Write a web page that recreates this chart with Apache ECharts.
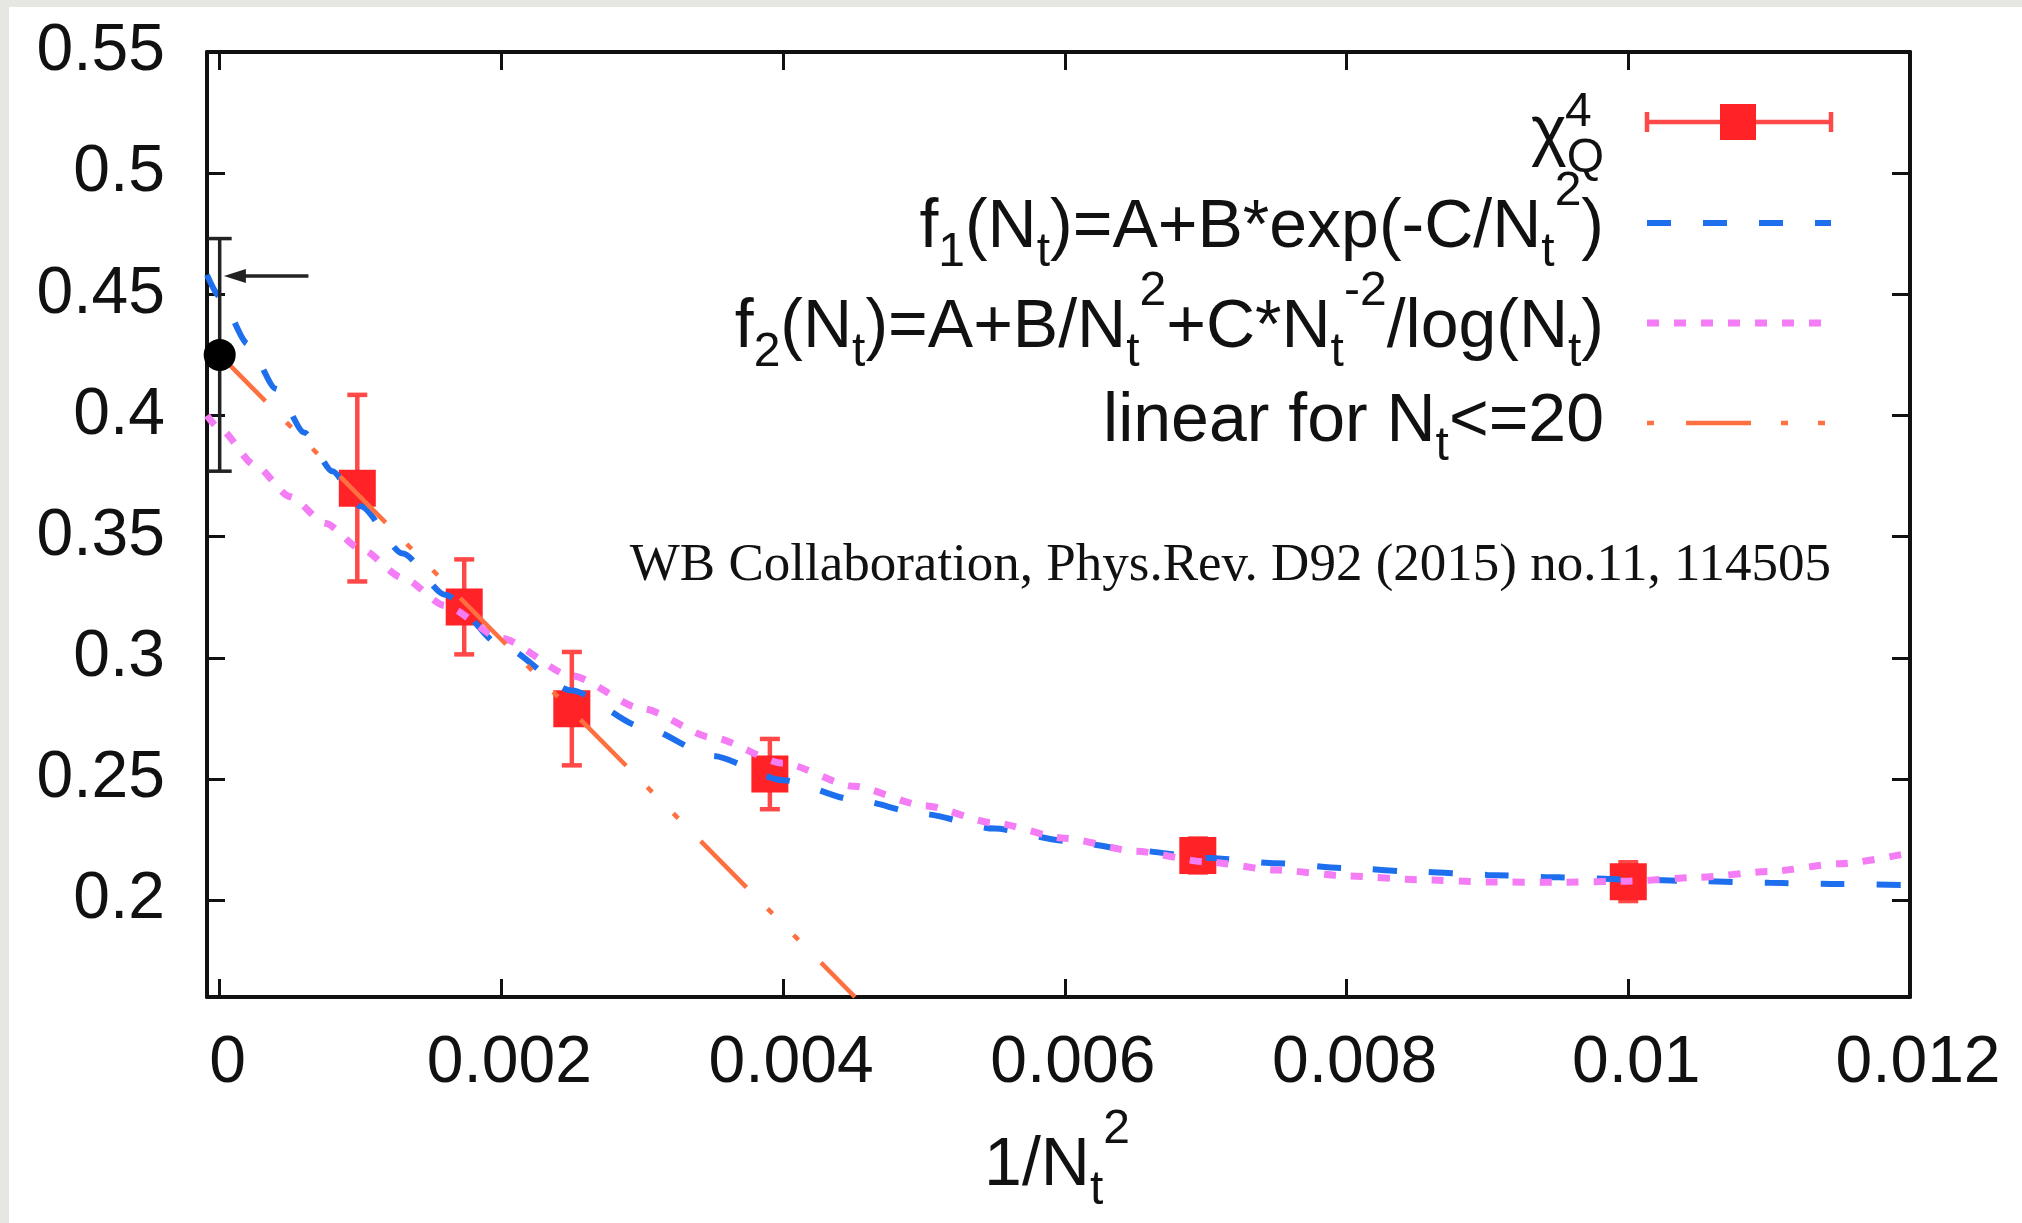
<!DOCTYPE html>
<html>
<head>
<meta charset="utf-8">
<title>chi4_Q continuum extrapolation</title>
<script src="https://cdn.jsdelivr.net/npm/echarts@6/dist/echarts.min.js"></script>
<style>
html, body { margin: 0; padding: 0; background: #fff; }
#chart { position: absolute; left: 0; top: 0; width: 2022px; height: 1223px; }
.strip { position: absolute; background: #e6e6e2; }
</style>
</head>
<body>
<div id="chart"></div>
<div class="strip" style="left:0;top:0;width:9px;height:1223px"></div>
<div class="strip" style="left:0;top:0;width:2022px;height:7px"></div>
<script>
// axis ticks
var xTicks = [0, 0.002, 0.004, 0.006, 0.008, 0.01, 0.012];
var xTickLabels = ['0', '0.002', '0.004', '0.006', '0.008', '0.01', '0.012'];
var yTicks = [0.2, 0.25, 0.3, 0.35, 0.4, 0.45, 0.5, 0.55];
var yTickLabels = ['0.2', '0.25', '0.3', '0.35', '0.4', '0.45', '0.5', '0.55'];
var xMin = -0.00009, xMax = 0.012;
var yMin = 0.16, yMax = 0.55;

// lattice data chi4_Q vs 1/Nt^2 (Nt = 32, 24, 20, 16, 12, 10)
var chiX = [0.000977, 0.001736, 0.0025, 0.003906, 0.006944, 0.01];
var chiY = [0.370, 0.321, 0.279, 0.252, 0.2184, 0.2076];
var chiErr = [0.0385, 0.0196, 0.0234, 0.0145, 0.007, 0.008];

// continuum value
var contX = [0];
var contY = [0.425];
var contErr = [0.048];

// f1 = A+B*exp(-C/Nt^2)
var f1X = [-0.00009, 0, 0.0002, 0.0004, 0.0006, 0.0008, 0.001, 0.0013, 0.0016, 0.002, 0.0025,
  0.003, 0.0035, 0.004, 0.0045, 0.005, 0.0055, 0.006, 0.0065, 0.007, 0.0075, 0.008, 0.0085, 0.009,
  0.0095, 0.01, 0.0105, 0.011, 0.0115, 0.012];
var f1Y = [0.458, 0.449, 0.4295, 0.411, 0.393, 0.377, 0.3625, 0.343, 0.326, 0.305, 0.2865,
  0.2715, 0.2595, 0.2495, 0.2415, 0.2355, 0.2295, 0.2245, 0.2205, 0.2175, 0.2152, 0.2132, 0.2117, 0.2104,
  0.2094, 0.2085, 0.2078, 0.2071, 0.2066, 0.2062];

// f2 = A+B/Nt^2+C*Nt^-2/log(Nt)
var f2X = [-0.00009, 0, 0.00025, 0.0005, 0.00075, 0.001, 0.0013, 0.0016, 0.002, 0.0025, 0.003, 0.0035,
  0.004, 0.0045, 0.005, 0.0055, 0.006, 0.0065, 0.007, 0.0075, 0.008, 0.0085, 0.009, 0.0095, 0.01,
  0.0105, 0.011, 0.0115, 0.012];
var f2Y = [0.400, 0.3945, 0.3795, 0.3665, 0.3555, 0.345, 0.333, 0.3215, 0.308, 0.2925, 0.279, 0.267,
  0.2565, 0.247, 0.239, 0.2318, 0.2255, 0.2202, 0.2158, 0.2124, 0.2100, 0.2084, 0.2075, 0.2073, 0.2078,
  0.2094, 0.2118, 0.2150, 0.2195];

// linear fit for Nt<=20
var linX = [0, 0.00451];
var linY = [0.425, 0.16];

// arrow
var arrowFrom = [0.00063, 0.4576];
var arrowTo = [0.00003, 0.4576];

var FONT = "'Liberation Sans', Arial, Helvetica, sans-serif";
var RED = '#ff2226', RED_BAR = '#ff4848';
var BLUE = '#1e6fee', PINK = '#f47cf4', ORANGE = '#ff7040';
var DASH_BLUE = [24, 32], DASH_PINK = [12, 15], DASH_ORANGE = [65, 30, 7, 30, 7, 32];

function zip(a, b) {
  var out = [];
  for (var i = 0; i < a.length; i++) out.push([a[i], b[i]]);
  return out;
}
function zip3(a, b, c) {
  var out = [];
  for (var i = 0; i < a.length; i++) out.push([a[i], b[i], c[i]]);
  return out;
}
function tickLabel(ticks, labels) {
  return function (v) {
    var best = 0;
    for (var i = 1; i < ticks.length; i++) {
      if (Math.abs(ticks[i] - v) < Math.abs(ticks[best] - v)) best = i;
    }
    return labels[best];
  };
}

function errorBar(color, width, capHalf) {
  return function (params, api) {
    var x = api.value(0), y = api.value(1), e = api.value(2);
    var top = api.coord([x, y + e]);
    var bot = api.coord([x, y - e]);
    var st = { stroke: color, lineWidth: width };
    return {
      type: 'group',
      children: [
        { type: 'line', shape: { x1: top[0], y1: top[1], x2: bot[0], y2: bot[1] }, style: st },
        { type: 'line', shape: { x1: top[0] - capHalf, y1: top[1], x2: top[0] + capHalf, y2: top[1] }, style: st },
        { type: 'line', shape: { x1: bot[0] - capHalf, y1: bot[1], x2: bot[0] + capHalf, y2: bot[1] }, style: st }
      ]
    };
  };
}

function arrowItem(params, api) {
  var p0 = api.coord([api.value(0), api.value(1)]);
  var p1 = api.coord([api.value(2), api.value(3)]);
  return {
    type: 'group',
    children: [
      { type: 'line', shape: { x1: p0[0], y1: p0[1], x2: p1[0] + 14, y2: p1[1] },
        style: { stroke: '#222', lineWidth: 3.5 } },
      { type: 'polygon', shape: { points: [[p1[0], p1[1]], [p1[0] + 22, p1[1] - 7], [p1[0] + 22, p1[1] + 7]] },
        style: { fill: '#222' } }
    ]
  };
}

var rich = {
  s: { fontSize: 48, fontFamily: FONT, color: '#111', padding: [50, 0, 0, 0] },
  p: { fontSize: 48, fontFamily: FONT, color: '#111', padding: [0, 0, 72, 0] }
};

function richText(str, x, y, align) {
  return {
    type: 'text', x: x, y: y, z: 100,
    style: {
      text: str, fontSize: 68, fontFamily: FONT, fill: '#111',
      align: align, textAlign: align, verticalAlign: 'middle', textVerticalAlign: 'middle',
      rich: rich
    }
  };
}

var LX0 = 1647, LX1 = 1831, TX = 1604;
var rowY = [122, 223, 323, 423];

var graphics = [
  richText('χ{s|Q}', TX, 134, 'right'),
  { type: 'text', x: 1565, y: 113, z: 100,
    style: { text: '4', fontSize: 48, fontFamily: FONT, fill: '#111', align: 'left', textAlign: 'left',
      verticalAlign: 'middle', textVerticalAlign: 'middle' } },
  richText('f{s|1}(N{s|t})=A+B*exp(-C/N{s|t}{p|2})', TX, 228, 'right'),
  richText('f{s|2}(N{s|t})=A+B/N{s|t}{p|2}+C*N{s|t}{p|-2}/log(N{s|t})', TX, 328, 'right'),
  richText('linear for N{s|t}<=20', TX, 422, 'right'),
  // legend samples
  { type: 'line', z: 100, shape: { x1: LX0, y1: rowY[0], x2: LX1, y2: rowY[0] }, style: { stroke: RED_BAR, lineWidth: 4.5 } },
  { type: 'line', z: 100, shape: { x1: LX0, y1: rowY[0] - 10, x2: LX0, y2: rowY[0] + 10 }, style: { stroke: RED_BAR, lineWidth: 4.5 } },
  { type: 'line', z: 100, shape: { x1: LX1, y1: rowY[0] - 10, x2: LX1, y2: rowY[0] + 10 }, style: { stroke: RED_BAR, lineWidth: 4.5 } },
  { type: 'rect', z: 101, shape: { x: 1720, y: rowY[0] - 18, width: 36, height: 36 }, style: { fill: RED } },
  { type: 'line', z: 100, shape: { x1: LX0, y1: rowY[1], x2: LX1, y2: rowY[1] },
    style: { stroke: BLUE, lineWidth: 6, lineDash: DASH_BLUE } },
  { type: 'line', z: 100, shape: { x1: LX0, y1: rowY[2], x2: LX1, y2: rowY[2] },
    style: { stroke: PINK, lineWidth: 7, lineDash: DASH_PINK } },
  { type: 'line', z: 100, shape: { x1: LX0, y1: rowY[3], x2: LX1, y2: rowY[3] },
    style: { stroke: ORANGE, lineWidth: 4.5, lineDash: DASH_ORANGE, lineDashOffset: 132 } },
  // reference
  { type: 'text', x: 1831, y: 566, z: 100,
    style: { text: 'WB Collaboration, Phys.Rev. D92 (2015) no.11, 114505', fontSize: 53,
      fontFamily: "'Liberation Serif', 'Times New Roman', serif", fill: '#111',
      align: 'right', textAlign: 'right', verticalAlign: 'middle', textVerticalAlign: 'middle' } },
  // x axis title
  richText('1/N{s|t}{p|2}', 1057, 1166, 'center')
];

var axisLineStyle = { show: true, onZero: false, lineStyle: { color: '#111', width: 4 } };
var tickStyle = { show: true, inside: true, length: 18, lineStyle: { color: '#111', width: 3 } };

var chart = echarts.init(document.getElementById('chart'), null, { renderer: 'canvas' });
var option = {
  backgroundColor: '#fff',
  animation: false,
  grid: { left: 207, right: 112, top: 52, bottom: 226, containLabel: false, outerBoundsMode: 'none' },
  xAxis: [
    { type: 'value', position: 'bottom', min: xMin, max: xMax,
      axisLine: axisLineStyle,
      axisTick: Object.assign({ customValues: xTicks }, tickStyle),
      axisLabel: { customValues: xTicks, formatter: tickLabel(xTicks, xTickLabels), fontSize: 66,
        fontFamily: FONT, color: '#111', margin: 34, padding: [0, 0, 0, 16] },
      splitLine: { show: false } },
    { type: 'value', position: 'top', min: xMin, max: xMax,
      axisLine: axisLineStyle,
      axisTick: Object.assign({ customValues: xTicks }, tickStyle),
      axisLabel: { show: false }, splitLine: { show: false } }
  ],
  yAxis: [
    { type: 'value', position: 'left', min: yMin, max: yMax,
      axisLine: axisLineStyle,
      axisTick: Object.assign({ customValues: yTicks }, tickStyle),
      axisLabel: { customValues: yTicks, formatter: tickLabel(yTicks, yTickLabels), fontSize: 66,
        fontFamily: FONT, color: '#111', margin: 42, padding: [6, 0, 0, 0] },
      splitLine: { show: false } },
    { type: 'value', position: 'right', min: yMin, max: yMax,
      axisLine: axisLineStyle,
      axisTick: Object.assign({ customValues: yTicks }, tickStyle),
      axisLabel: { show: false }, splitLine: { show: false } }
  ],
  series: [
    { name: 'chi4 err', type: 'custom', z: 2, renderItem: errorBar(RED_BAR, 4.5, 10),
      encode: { x: 0, y: 1 }, data: zip3(chiX, chiY, chiErr) },
    { name: 'chi4', type: 'scatter', z: 3, symbol: 'rect', symbolSize: 37,
      itemStyle: { color: RED, opacity: 1 }, data: zip(chiX, chiY) },
    { name: 'f1', type: 'line', z: 4, showSymbol: false, symbol: 'none', smooth: 0.25, smoothMonotone: 'x',
      lineStyle: { color: BLUE, width: 6, type: DASH_BLUE }, data: zip(f1X, f1Y) },
    { name: 'f2', type: 'line', z: 4, showSymbol: false, symbol: 'none', smooth: 0.25, smoothMonotone: 'x',
      lineStyle: { color: PINK, width: 7, type: DASH_PINK }, data: zip(f2X, f2Y) },
    { name: 'linear', type: 'line', z: 4, showSymbol: false, symbol: 'none',
      lineStyle: { color: ORANGE, width: 4.5, type: DASH_ORANGE }, data: zip(linX, linY) },
    { name: 'continuum err', type: 'custom', z: 5, renderItem: errorBar('#222', 3.5, 12),
      encode: { x: 0, y: 1 }, data: zip3(contX, contY, contErr) },
    { name: 'continuum', type: 'scatter', z: 6, symbol: 'circle', symbolSize: 32,
      itemStyle: { color: '#000', opacity: 1 }, data: zip(contX, contY) },
    { name: 'arrow', type: 'custom', z: 6, renderItem: arrowItem,
      encode: { x: [0, 2], y: [1, 3] }, data: [[arrowFrom[0], arrowFrom[1], arrowTo[0], arrowTo[1]]] }
  ],
  graphic: graphics
};
chart.setOption(option);
</script>
</body>
</html>
